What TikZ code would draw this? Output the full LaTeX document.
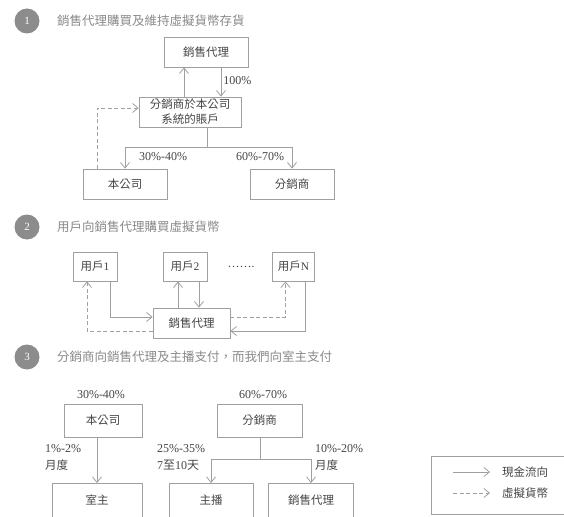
\documentclass[tikz,border=0pt]{standalone}
\usepackage{fontspec}
\setmainfont{Liberation Serif}
\newfontfamily\cjk{Noto Sans CJK TC}
\usetikzlibrary{arrows.meta,calc}
\definecolor{linec}{HTML}{A0A0A0}
\definecolor{txtc}{HTML}{454545}
\definecolor{titc}{HTML}{8A8A8A}
\definecolor{circc}{HTML}{8C8C8C}
\begin{document}
\begin{tikzpicture}[x=1pt,y=-1pt,
  box/.style={draw=linec,line width=0.8pt,minimum width=84pt,minimum height=30pt,inner sep=0pt,text=txtc,font=\cjk\fontsize{11.5}{15}\selectfont,align=center},
  cash/.style={draw=linec,line width=0.8pt,-{Straight Barb[length=5.5pt,width=9pt]}},
  virt/.style={draw=linec,line width=0.8pt,dash pattern=on 4pt off 2.5pt,-{Straight Barb[length=5.5pt,width=9pt]}},
  plain/.style={draw=linec,line width=0.8pt},
  pct/.style={text=txtc,inner sep=0pt,font=\fontsize{12}{14}\selectfont},
  num/.style={circle,fill=circc,minimum size=25pt,inner sep=0pt,text=white,font=\fontsize{11}{12}\selectfont},
  ttl/.style={anchor=west,inner sep=0pt,text=titc,font=\cjk\fontsize{12.5}{15}\selectfont},
  leg/.style={anchor=west,inner sep=0pt,text=txtc,font=\cjk\fontsize{11.5}{14}\selectfont}
]
\useasboundingbox (0,0) rectangle (564,516);
\fill[white] (0,0) rectangle (564,516);
\clip (0,0) rectangle (564,516);

% ---------- Section 1 ----------
\node[num] (c1) at (27,21) {1};
\node[ttl] (t1) at (57,21) {銷售代理購買及維持虛擬貨幣存貨};

\node[box] (agent1) at (206,52) {銷售代理};
\node[box,minimum width=102pt] (acct) at (190,112) {分銷商於本公司\\系統的賬戶};
\node[box] (co1) at (125,184) {本公司};
\node[box] (dist1) at (292,184) {分銷商};

\draw[cash] ([xshift=-6pt]acct.north) -- ([xshift=-6pt]acct.north |- agent1.south);
\draw[cash] ([xshift=31pt]acct.north |- agent1.south) -- ([xshift=31pt]acct.north)
  node[pct,pos=0.45,anchor=west,xshift=2pt] (l100) {100\%};
\coordinate (j1) at (207,147);
\draw[plain] (acct.south -| j1) -- (j1);
\draw[cash] (j1) -| (co1.north);
\draw[cash] (j1) -| (dist1.north);
\node[pct] (l3040a) at (163,157) {30\%-40\%};
\node[pct] (l6070a) at (260,157) {60\%-70\%};
\draw[virt] ([xshift=-28pt]co1.north) |- ([yshift=4pt]acct.west);

% ---------- Section 2 ----------
\node[num] (c2) at (27,227) {2};
\node[ttl] (t2) at (57,227) {用戶向銷售代理購買虛擬貨幣};

\node[box,minimum width=44pt,minimum height=29pt] (u1) at (95,266.5) {用戶\textrm{1}};
\node[box,minimum width=44pt,minimum height=29pt] (u2) at (185,266.5) {用戶\textrm{2}};
\node[box,minimum width=42pt,minimum height=29pt] (uN) at (293.5,266.5) {用戶\textrm{N}};
\node[pct] (dots) at (241,267) {…….};
\node[box,minimum width=77pt] (agent2) at (191.5,323) {銷售代理};

\draw[cash] ([xshift=15pt]u1.south) |- ([yshift=6pt]agent2.west);
\draw[virt] ([yshift=-8pt]agent2.west) -| ([xshift=-8pt]u1.south);
\draw[cash] ([xshift=-7pt]u2.south |- agent2.north) -- ([xshift=-7pt]u2.south);
\draw[cash] ([xshift=14pt]u2.south) -- ([xshift=14pt]u2.south |- agent2.north);
\draw[virt] ([yshift=6pt]agent2.east) -| ([xshift=-8pt]uN.south);
\draw[cash] ([xshift=12pt]uN.south) |- ([yshift=-8pt]agent2.east);

% ---------- Section 3 ----------
\node[num] (c3) at (27,357) {3};
\node[ttl] (t3) at (57,357) {分銷商向銷售代理及主播支付，而我們向室主支付};

\node[pct] (l3040b) at (101,395) {30\%-40\%};
\node[box,minimum width=78pt,minimum height=33pt] (co3) at (103,420.5) {本公司};
\node[pct] (l6070b) at (263,395) {60\%-70\%};
\node[box,minimum width=85pt,minimum height=33pt] (dist3) at (259.5,420.5) {分銷商};

\node[box,minimum width=90pt,minimum height=40pt,anchor=north] (room) at (97,483) {\raisebox{8pt}{室主}};
\node[box,minimum width=84pt,minimum height=40pt,anchor=north] (host) at (211,483) {\raisebox{8pt}{主播}};
\node[box,minimum width=85pt,minimum height=40pt,anchor=north] (agent3) at (311,483) {\raisebox{8pt}{銷售代理}};

\draw[cash] (co3.south -| room.north) -- (room.north);
\coordinate (j3) at (260,459);
\draw[plain] (dist3.south -| j3) -- (j3);
\draw[cash] (j3) -| (host.north);
\draw[cash] (j3) -| (agent3.north);

\node[pct,anchor=west] (l12) at (45,449) {1\%-2\%};
\node[pct,anchor=west,font=\cjk\fontsize{11.5}{14}\selectfont] (l12b) at (45,465) {月度};
\node[pct,anchor=west] (l2535) at (157,449) {25\%-35\%};
\node[pct,anchor=west] (l710) at (157,465) {7{\cjk 至}10{\cjk 天}};
\node[pct,anchor=west] (l1020) at (315,449) {10\%-20\%};
\node[pct,anchor=west,font=\cjk\fontsize{11.5}{14}\selectfont] (l1020b) at (315,465) {月度};

% ---------- Legend ----------
\node[draw=linec,line width=0.8pt,minimum width=140pt,minimum height=58pt,inner sep=0pt,anchor=north west] (legbox) at (431,456) {};
\coordinate (ls1) at (453,472);
\coordinate (le1) at (490,472);
\coordinate (ls2) at (453,493);
\coordinate (le2) at (490,493);
\draw[cash] (ls1) -- (le1);
\draw[virt] (ls2) -- (le2);
\node[leg] (lt1) at (502,472) {現金流向};
\node[leg] (lt2) at (502,493) {虛擬貨幣};
\end{tikzpicture}
\end{document}
